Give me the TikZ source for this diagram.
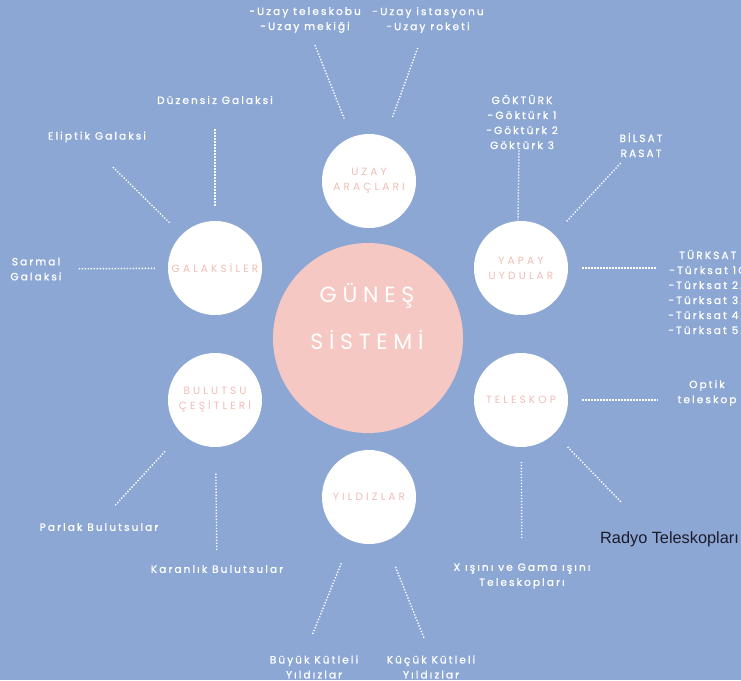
\documentclass[tikz,border=0pt]{standalone}
\usepackage{fontspec}
\setmainfont{Poppins}
\newfontfamily\notefont[LetterSpace=20, FakeBold=1]{Poppins}
\newfontfamily\topicfont[LetterSpace=30]{Poppins}
\newfontfamily\sunfont[LetterSpace=26]{Poppins}
\newfontfamily\radyofont{Liberation Sans}

\definecolor{bgblue}{HTML}{8DA7D4}
\definecolor{sunpink}{HTML}{F6C8C4}
\definecolor{topictext}{HTML}{F0BDB5}
\definecolor{radyotext}{HTML}{1C1C2A}

\begin{document}
\begin{tikzpicture}[x=1pt, y=-1pt,
    sun/.style={circle, fill=sunpink, minimum size=190pt, inner sep=0pt},
    suntitle/.style={text=white, font=\sunfont\fontsize{22}{47}\selectfont, align=center, inner sep=0pt},
    topic/.style={circle, fill=white, minimum size=94pt, inner sep=0pt, text=topictext,
        font=\topicfont\fontsize{10.5}{15}\selectfont, align=center},
    note/.style={text=white, font=\notefont\fontsize{10.5}{15}\selectfont, align=center, inner sep=0pt},
    dotline/.style={draw=white, line width=1.4pt, dash pattern=on 1.3pt off 1.7pt}]

    \useasboundingbox (0,0) rectangle (741,680);
    \clip (0,0) rectangle (741,680);
    \fill[bgblue] (0,0) rectangle (741,680);

    % middle
    \node[sun] (sun) at (368,338) {};
    \node[suntitle] (suntitle) at (367,316) {GÜNEŞ\\SİSTEMİ};

    % the six topics round it
    \node[topic] (uzay) at (369,181) {UZAY\\ARAÇLARI};
    \node[topic] (galaksi) at (215,268) {GALAKSİLER};
    \node[topic] (yapay) at (521,268) {YAPAY\\UYDULAR};
    \node[topic] (bulutsu) at (215,400) {BULUTSU\\ÇEŞİTLERİ};
    \node[topic] (teleskop) at (521,400) {TELESKOP};
    \node[topic] (yildiz) at (369,497) {YILDIZLAR};

    % notes
    \node[note] (tel) at (305,20) {-Uzay teleskobu\\-Uzay mekiği};
    \node[note] (ist) at (428,20) {-Uzay istasyonu\\-Uzay roketi};
    \node[note] (duz) at (215,100) {Düzensiz Galaksi};
    \node[note] (elip) at (97,137) {Eliptik Galaksi};
    \node[note] (sar) at (36,269) {Sarmal\\Galaksi};
    \node[note] (gok) at (522,122) {GÖKTÜRK\\-Göktürk 1\\-Göktürk 2\\Göktürk 3};
    \node[note] (bil) at (641,145) {BİLSAT\\RASAT};
    \node[note, anchor=west] (turk) at (668,292) {TÜRKSAT\\-Türksat 1C\\-Türksat 2A\\-Türksat 3A\\-Türksat 4A\\-Türksat 5A};
    \node[note] (opt) at (707,393) {Optik\\teleskop};
    \node[note] (par) at (99,527) {Parlak Bulutsular};
    \node[note] (kar) at (217,569) {Karanlık Bulutsular};
    \node[note] (buy) at (314,667) {Büyük Kütleli\\Yıldızlar};
    \node[note] (kuc) at (431,667) {Küçük Kütleli\\Yıldızlar};
    \node[note] (xgam) at (522,576) {X ışını ve Gama ışını\\Teleskopları};
    \node[anchor=west, inner sep=0pt, text=radyotext, font=\radyofont\fontsize{16.3}{19}\selectfont]
        (radyo) at (600,539) {Radyo Teleskopları};

    % dotted connectors
    \draw[dotline, shorten <=13pt, shorten >=20pt] (tel) -- (uzay);
    \draw[dotline, shorten <=16pt, shorten >=20pt] (ist) -- (uzay);
    \draw[dotline, shorten <=25pt, shorten >=14pt] (duz) -- (galaksi);
    \draw[dotline, shorten <=35pt, shorten >=17pt] ([xshift=-9pt]elip.south) -- (galaksi.135);
    \draw[dotline, shorten <=17pt, shorten >=13pt] (sar) -- (galaksi);
    \draw[dotline, shorten <=1pt, shorten >=1pt] ([xshift=-3pt]gok.south) -- ([xshift=-3pt]yapay.north);
    \draw[dotline, shorten <=8pt, shorten >=18pt] ([xshift=-15pt]bil.south) -- (yapay.45);
    \draw[dotline, shorten <=14pt, shorten >=11pt] (yapay) -- (yapay -| turk.west);
    \draw[dotline, shorten <=14pt, shorten >=19pt] (teleskop) -- (teleskop -| opt.west);
    \draw[dotline, shorten <=24pt, shorten >=24pt] (par.north) -- (bulutsu.225);
    \draw[dotline, shorten <=15pt, shorten >=25pt] (kar) -- (bulutsu);
    \draw[dotline, shorten <=23pt, shorten >=24pt] ([xshift=-10pt]buy.north) -- (yildiz.247);
    \draw[dotline, shorten <=19pt, shorten >=26pt] (kuc.north) -- (yildiz.290);
    \draw[dotline, shorten <=25pt, shorten >=15pt] (xgam) -- (teleskop);
    \draw[dotline, shorten <=19pt, shorten >=41pt] (teleskop.-45) -- ([xshift=-20pt]radyo.north);
\end{tikzpicture}
\end{document}
